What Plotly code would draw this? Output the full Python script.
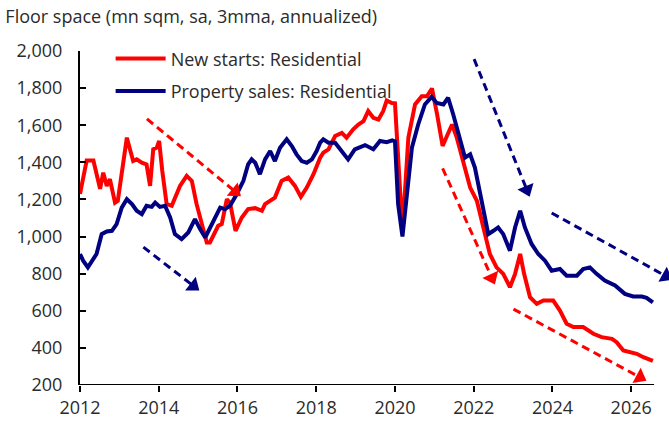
import plotly.graph_objects as go

# New starts: Residential (decimal year, mn sqm)
starts_years = [2012.00, 2012.17, 2012.34, 2012.51, 2012.59, 2012.68, 2012.76, 2012.89, 2012.96,
                2013.19, 2013.35, 2013.44, 2013.57, 2013.69, 2013.78, 2013.86, 2013.95, 2014.01,
                2014.09, 2014.20, 2014.33, 2014.54, 2014.71, 2014.84, 2014.96, 2015.05, 2015.22,
                2015.30, 2015.51, 2015.60, 2015.73, 2015.81, 2015.95, 2016.11, 2016.27, 2016.45,
                2016.62, 2016.70, 2016.83, 2016.95, 2017.12, 2017.29, 2017.46, 2017.61, 2017.76,
                2017.93, 2018.10, 2018.18, 2018.31, 2018.48, 2018.65, 2018.77, 2018.94, 2019.07,
                2019.20, 2019.32, 2019.45, 2019.58, 2019.70, 2019.79, 2019.92, 2020.00, 2020.19,
                2020.34, 2020.51, 2020.68, 2020.81, 2020.94, 2021.07, 2021.21, 2021.32, 2021.45,
                2021.57, 2021.74, 2021.91, 2022.08, 2022.24, 2022.41, 2022.58, 2022.75, 2022.92,
                2023.05, 2023.18, 2023.28, 2023.43, 2023.60, 2023.77, 2024.02, 2024.19, 2024.36,
                2024.53, 2024.78, 2025.04, 2025.25, 2025.51, 2025.63, 2025.80, 2025.97, 2026.14,
                2026.31, 2026.55]
starts_values = [1230, 1410, 1410, 1257, 1344, 1273, 1309, 1183, 1193,
                 1533, 1407, 1416, 1398, 1389, 1273, 1470, 1479, 1515,
                 1353, 1175, 1166, 1273, 1327, 1300, 1176, 1103, 968,
                 968, 1058, 1067, 1201, 1183, 1031, 1103, 1148, 1153,
                 1139, 1175, 1193, 1210, 1300, 1318, 1273, 1214, 1264,
                 1336, 1425, 1452, 1470, 1542, 1559, 1533, 1578, 1604,
                 1622, 1676, 1640, 1631, 1676, 1733, 1720, 1718, 1030,
                 1533, 1712, 1756, 1756, 1798, 1658, 1488, 1542, 1604,
                 1533, 1407, 1264, 1193, 1049, 906, 834, 799, 727,
                 799, 906, 799, 673, 637, 655, 655, 601, 530,
                 512, 512, 476, 458, 449, 431, 386, 377, 368,
                 350, 330]

# Property sales: Residential
sales_years = [2012.00, 2012.08, 2012.20, 2012.30, 2012.42, 2012.55, 2012.68, 2012.81, 2012.93,
               2013.06, 2013.19, 2013.32, 2013.44, 2013.57, 2013.69, 2013.82, 2013.91, 2014.03,
               2014.16, 2014.29, 2014.41, 2014.58, 2014.75, 2014.92, 2015.00, 2015.05, 2015.18,
               2015.30, 2015.43, 2015.56, 2015.68, 2015.81, 2015.98, 2016.15, 2016.27, 2016.36,
               2016.45, 2016.57, 2016.70, 2016.83, 2016.95, 2017.08, 2017.25, 2017.38, 2017.50,
               2017.63, 2017.76, 2017.89, 2018.01, 2018.10, 2018.18, 2018.31, 2018.48, 2018.65,
               2018.81, 2018.98, 2019.24, 2019.45, 2019.62, 2019.79, 2019.93, 2020.00, 2020.08,
               2020.19, 2020.30, 2020.43, 2020.59, 2020.76, 2020.93, 2021.06, 2021.23, 2021.35,
               2021.48, 2021.63, 2021.78, 2021.91, 2022.03, 2022.20, 2022.37, 2022.50, 2022.62,
               2022.75, 2022.92, 2023.05, 2023.18, 2023.30, 2023.47, 2023.64, 2023.81, 2023.98,
               2024.19, 2024.36, 2024.62, 2024.78, 2024.95, 2025.12, 2025.33, 2025.59, 2025.84,
               2026.05, 2026.27, 2026.39, 2026.55]
sales_values = [906, 870, 834, 870, 906, 1013, 1027, 1031, 1067,
                1156, 1201, 1175, 1139, 1121, 1166, 1160, 1183, 1160,
                1166, 1103, 1013, 986, 1022, 1094, 1067, 1040, 995,
                1049, 1103, 1156, 1148, 1166, 1228, 1300, 1389, 1416,
                1398, 1336, 1416, 1461, 1407, 1479, 1524, 1488, 1443,
                1407, 1398, 1416, 1461, 1506, 1524, 1506, 1506, 1461,
                1416, 1470, 1493, 1470, 1515, 1509, 1518, 1513, 1175,
                1000, 1210, 1479, 1604, 1712, 1753, 1720, 1712, 1748,
                1658, 1533, 1425, 1443, 1372, 1193, 1013, 1031, 1049,
                1013, 924, 1049, 1139, 1049, 960, 906, 870, 816,
                825, 789, 789, 825, 834, 799, 763, 736, 691,
                677, 677, 670, 645]

# dashed trend arrows: (x0, y0, x1, y1, colour)
arrows = [
    (2013.70, 1634, 2015.94, 1243, "#FF0000"),
    (2013.61, 943, 2014.88, 734, "#000080"),
    (2021.21, 1368, 2022.46, 778, "#FF0000"),
    (2022.01, 1956, 2023.35, 1252, "#000080"),
    (2023.98, 1127, 2026.88, 787, "#000080"),
    (2023.01, 609, 2026.22, 242, "#FF0000"),
]

year_ticks = [2012, 2014, 2016, 2018, 2020, 2022, 2024, 2026]
value_ticks = [200, 400, 600, 800, 1000, 1200, 1400, 1600, 1800, 2000]
x_end = 2026.58

fig = go.Figure()

fig.add_trace(go.Scatter(x=starts_years, y=starts_values, mode="lines",
                         name="New starts: Residential", legendgroup="a",
                         line=dict(color="#FF0000", width=4)))
fig.add_trace(go.Scatter(x=sales_years, y=sales_values, mode="lines",
                         name="Property sales: Residential", legendgroup="b",
                         line=dict(color="#000080", width=4)))

for x0, y0, x1, y1, col in arrows:
    fig.add_trace(go.Scatter(
        x=[x0, x1], y=[y0, y1], mode="lines+markers", showlegend=False,
        cliponaxis=False, hoverinfo="skip",
        line=dict(color=col, width=3, dash="8px,5px"),
        marker=dict(size=[0, 15], symbol="triangle-up", angleref="previous", color=col,
                    opacity=1, line=dict(width=0)),
    ))

# x axis line only up to the last data month
fig.add_shape(type="line", xref="x", yref="y", x0=2012, x1=x_end, y0=200, y1=200,
              line=dict(color="black", width=2))

fig.update_xaxes(range=[2012, 2026.96], tickvals=year_ticks, ticktext=[str(t) for t in year_ticks],
                 showline=False, showgrid=False, zeroline=False, automargin=False,
                 ticks="outside", ticklen=6, tickwidth=2, tickcolor="black")
fig.update_yaxes(range=[200, 2000], tickvals=value_ticks, tickformat=",d",
                 showline=True, linecolor="black", linewidth=2, showgrid=False, zeroline=False,
                 automargin=False, ticklabelstandoff=12,
                 ticks="inside", ticklen=6, tickwidth=2, tickcolor="black")

fig.update_layout(
    template="none",
    width=669, height=428,
    margin=dict(l=80, r=0, t=51, b=43),
    plot_bgcolor="white", paper_bgcolor="white",
    font=dict(family="Open Sans", size=18, color="#2b2b2b"),
    title=dict(text="Floor space (mn sqm, sa, 3mma, annualized)", xref="container", yref="container",
               x=0.008, y=0.975, xanchor="left", yanchor="top",
               font=dict(size=18, color="#2b2b2b")),
    legend=dict(x=0.052, y=1.032, xanchor="left", yanchor="top", bgcolor="rgba(0,0,0,0)",
                traceorder="grouped", tracegroupgap=6, itemwidth=50,
                font=dict(size=18, color="#2b2b2b")),
    showlegend=True,
)

fig.write_html("out.html", config={"displayModeBar": False},
               post_script="document.body.style.margin='0';")
